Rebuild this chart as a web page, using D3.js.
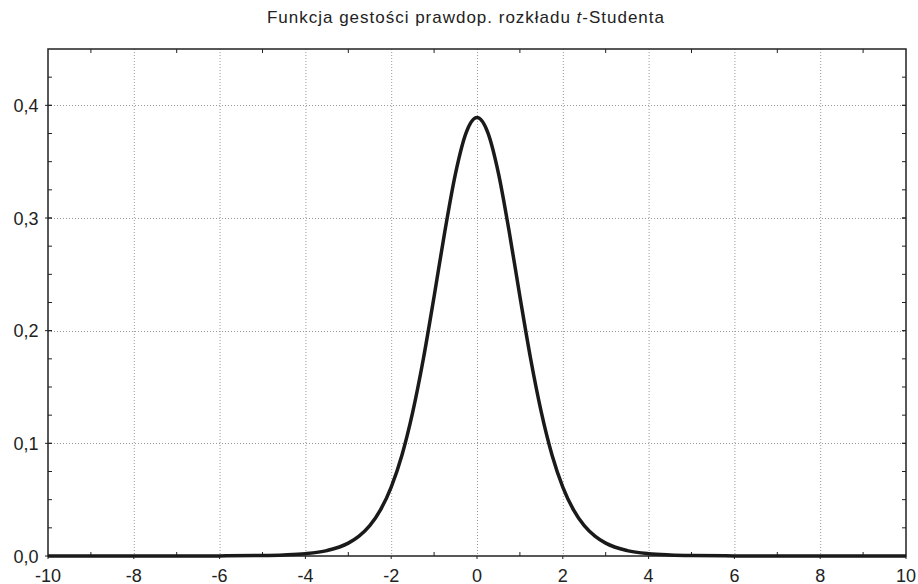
<!DOCTYPE html>
<html><head><meta charset="utf-8">
<script src="https://cdn.jsdelivr.net/npm/d3@7"></script>
<style>body{margin:0;background:#fff}svg{display:block;font-family:"Liberation Sans",Arial,sans-serif}</style>
</head><body><svg id="c" width="918" height="584"></svg>
<script>
const title = "Funkcja gestości prawdop. rozkładu ";
const xTicks = [-10,-8,-6,-4,-2,0,2,4,6,8,10];
const yTicks = [0,0.1,0.2,0.3,0.4];
const xs = [-10,-9,-8,-7,-6,-5,-4.5,-4,-3.5,-3,-2.75,-2.5,-2.25,-2,-1.75,-1.5,-1.25,-1,-0.75,-0.5,-0.25,0,0.25,0.5,0.75,1,1.25,1.5,1.75,2,2.25,2.5,2.75,3,3.5,4,4.5,5,6,7,8,9,10];
const density = [0.0000,0.0000,0.0000,0.0000,0.0001,0.0004,0.0009,0.0020,0.0048,0.0114,0.0176,0.0269,0.0409,0.0612,0.0895,0.1275,0.1751,0.2304,0.2880,0.3397,0.3760,0.3891,0.3760,0.3397,0.2880,0.2304,0.1751,0.1275,0.0895,0.0612,0.0409,0.0269,0.0176,0.0114,0.0048,0.0020,0.0009,0.0004,0.0001,0.0000,0.0000,0.0000,0.0000];

const svg = d3.select("#c");
const L=48,R=906,T=49,B=556;
const x = d3.scaleLinear().domain([-10,10]).range([L,R]);
const y = d3.scaleLinear().domain([0,0.45]).range([B,T]);

svg.append("text").attr("x",267).attr("y",22.5)
  .attr("font-size",17).attr("fill","#222")
  .attr("textLength",397).attr("lengthAdjust","spacing")
  .call(t=>{t.append("tspan").text(title);t.append("tspan").attr("font-style","italic").text("t");t.append("tspan").text("-Studenta");});

const g = svg.append("g");
// grid
g.selectAll(".gx").data(xTicks.slice(1,-1)).join("line")
  .attr("x1",d=>x(d)+0.5).attr("x2",d=>x(d)+0.5).attr("y1",T).attr("y2",B)
  .attr("stroke","#999").attr("stroke-width",1).attr("stroke-dasharray","1,2");
g.selectAll(".gy").data(yTicks.slice(1)).join("line")
  .attr("y1",d=>Math.round(y(d))+0.5).attr("y2",d=>Math.round(y(d))+0.5).attr("x1",L).attr("x2",R)
  .attr("stroke","#999").attr("stroke-width",1).attr("stroke-dasharray","1,2");

// minor ticks
const xMinor = d3.range(-9,10,2);
const yMinor = d3.range(0.025,0.45,0.025);
g.selectAll(".mxb").data(xMinor).join("line").attr("x1",d=>x(d)).attr("x2",d=>x(d)).attr("y1",B).attr("y2",B-4).attr("stroke","#222");
g.selectAll(".mxt").data(xMinor).join("line").attr("x1",d=>x(d)).attr("x2",d=>x(d)).attr("y1",T).attr("y2",T+4).attr("stroke","#222");
g.selectAll(".myl").data(yMinor).join("line").attr("y1",d=>y(d)).attr("y2",d=>y(d)).attr("x1",L).attr("x2",L+4).attr("stroke","#222");
g.selectAll(".myr").data(yMinor).join("line").attr("y1",d=>y(d)).attr("y2",d=>y(d)).attr("x1",R).attr("x2",R-4).attr("stroke","#222");
// major ticks
g.selectAll(".Mx").data(xTicks).join("line").attr("x1",d=>x(d)).attr("x2",d=>x(d)).attr("y1",B).attr("y2",B+3).attr("stroke","#222");
g.selectAll(".My").data(yTicks).join("line").attr("y1",d=>y(d)).attr("y2",d=>y(d)).attr("x1",L-3).attr("x2",L+4).attr("stroke","#222");
g.selectAll(".Myr").data(yTicks).join("line").attr("y1",d=>y(d)).attr("y2",d=>y(d)).attr("x1",R).attr("x2",R-4).attr("stroke","#222");

// frame
g.append("rect").attr("x",L).attr("y",T).attr("width",R-L).attr("height",B-T)
  .attr("fill","none").attr("stroke","#222").attr("stroke-width",1.5);

// labels
svg.selectAll(".xl").data(xTicks).join("text").attr("x",d=>x(d)).attr("y",581.5)
  .attr("text-anchor","middle").attr("font-size",18).attr("fill","#222").text(d=>String(d));
svg.selectAll(".yl").data(yTicks).join("text").attr("x",38.5).attr("y",d=>y(d)+6.5)
  .attr("text-anchor","end").attr("font-size",18).attr("fill","#222").text(d=>d.toFixed(1).replace(".",","));

// curve
const pts = xs.map((v,i)=>[v,density[i]]);
svg.append("path").datum(pts)
  .attr("d",d3.line().x(d=>x(d[0])).y(d=>y(d[1])).curve(d3.curveMonotoneX))
  .attr("fill","none").attr("stroke","#1a1a1a").attr("stroke-width",3.5).attr("stroke-linejoin","round");
</script></body></html>
